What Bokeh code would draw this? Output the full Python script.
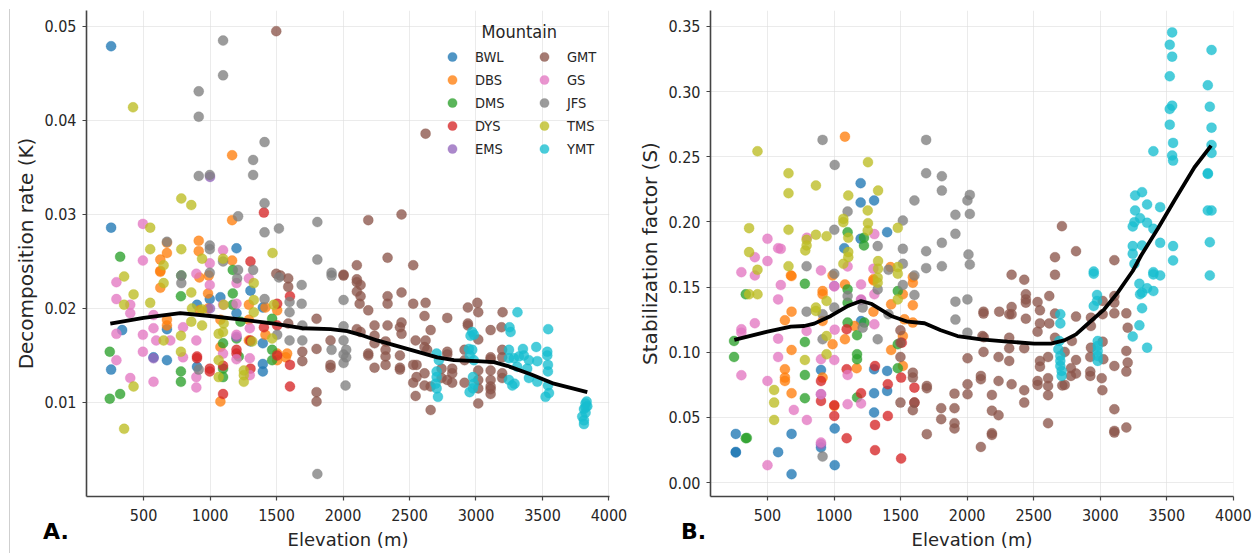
from bokeh.plotting import figure
from bokeh.layouts import row, column
from bokeh.embed import file_html
from bokeh.resources import INLINE
from bokeh.models import Range1d, FixedTicker, Legend, LegendItem, Label, NumeralTickFormatter, Div

MOUNTAINS = ["BWL", "DBS", "DMS", "DYS", "EMS", "GMT", "GS", "JFS", "TMS", "YMT"]
COLORS = ["#1f77b4", "#ff7f0e", "#2ca02c", "#d62728", "#9467bd", "#8c564b", "#e377c2", "#7f7f7f", "#bcbd22", "#17becf"]
X_TICKS = [500, 1000, 1500, 2000, 2500, 3000, 3500, 4000]
K_TICKS = [0.01, 0.02, 0.03, 0.04, 0.05]
S_TICKS = [0.0, 0.05, 0.10, 0.15, 0.20, 0.25, 0.30, 0.35]

BWL_K = [(256,.0479),(256,.0286),(1199,.0264),(339,.0177),(256,.0135),(575,.0148),(676,.0145),(676,.0178),(902,.0204),(998,.0210),(1078,.0212),(1199,.0195),(1304,.0219),(1397,.0201),(1397,.0163),(1397,.0141),(1397,.0133),(902,.0138),(1304,.0165)]
DBS_K = [(1166,.0363),(1166,.0294),(915,.0272),(915,.0261),(676,.0270),(676,.0259),(626,.0252),(626,.0240),(920,.0233),(990,.0235),(1166,.0251),(626,.0239),(626,.0222),(985,.0216),(985,.0200),(676,.0188),(676,.0182),(922,.0198),(1292,.0204),(1292,.0188),(1078,.0188),(1417,.0201),(1417,.0172),(1078,.0159),(1078,.0101),(1580,.0152),(1505,.0152),(1505,.0145),(1292,.0166),(1505,.0198),(1570,.0148)]
DMS_K = [(324,.0255),(1171,.0241),(784,.0235),(246,.0154),(246,.0104),(324,.0109),(781,.0213),(781,.0133),(781,.0122),(1171,.0216),(1098,.0163),(1098,.0136),(1098,.0127),(1199,.0168),(1229,.0186),(1216,.0149),(1467,.0156),(1467,.0145),(1467,.0189),(1171,.0204)]
DYS_K = [(1405,.0302),(1304,.0250),(902,.0149),(902,.0147),(998,.0136),(998,.0133),(1098,.0109),(1199,.0156),(1199,.0152),(1304,.0136),(1304,.0166),(1405,.0180),(1505,.0205),(1505,.0150),(1601,.0140),(1601,.0117),(1601,.0213),(1505,.0182),(1098,.0139)]
EMS_K = [(1199,.0170),(575,.0147),(1000,.0340),(1000,.0200)]
GMT_K = [(1498,.0495),(1498,.0237),(1530,.0235),(1588,.0232),(2621,.0386),(2440,.0300),(2190,.0294),(2335,.0254),(2104,.0246),(2528,.0246),(2004,.0236),(2104,.0231),(2004,.0235),(2104,.0228),(2132,.0225),(2104,.0218),(2132,.0213),(2125,.0205),(2190,.0198),(2335,.0213),(2335,.0205),(2440,.0217),(2528,.0205),(2621,.0206),(2613,.0192),(2784,.0190),(2939,.0201),(3010,.0206),(3017,.0196),(3200,.0196),(1801,.0189),(2237,.0182),(2335,.0182),(2440,.0185),(2428,.0180),(2440,.0173),(2659,.0177),(2939,.0184),(2939,.0182),(3110,.0177),(3192,.0180),(2104,.0178),(2132,.0175),(2237,.0171),(2237,.0163),(1906,.0166),(1801,.0157),(1906,.0140),(1906,.0137),(2190,.0152),(2190,.0150),(2320,.0165),(2320,.0156),(2320,.0149),(2320,.0140),(2237,.0137),(2428,.0150),(2428,.0137),(2428,.0135),(2546,.0166),(2621,.0166),(2613,.0159),(2633,.0156),(2528,.0140),(2553,.0140),(2613,.0131),(2553,.0127),(2528,.0121),(2613,.0118),(2659,.0117),(2546,.0107),(2659,.0092),(2784,.0154),(2784,.0151),(2741,.0136),(2741,.0126),(2821,.0136),(2821,.0131),(2821,.0121),(2784,.0124),(2914,.0156),(2914,.0145),(2914,.0121),(3017,.0167),(3017,.0134),(3017,.0124),(3017,.0115),(3017,.0099),(3110,.0148),(3110,.0146),(3110,.0134),(3110,.0124),(3110,.0117),(3110,.0114),(3110,.0109),(3197,.0156),(3197,.0148),(3197,.0131),(3197,.0126),(1801,.0111),(1801,.0101),(1588,.0223),(1694,.0154),(1694,.0144),(1588,.0184)]
GS_K = [(495,.0290),(495,.0251),(296,.0228),(1098,.0262),(998,.0248),(897,.0237),(296,.0210),(400,.0204),(400,.0195),(296,.0173),(296,.0145),(400,.0126),(495,.0172),(495,.0154),(575,.0193),(575,.0179),(595,.0166),(701,.0166),(575,.0122),(797,.0180),(797,.0148),(897,.0166),(897,.0127),(897,.0116),(998,.0225),(1199,.0205),(1199,.0227),(1292,.0232),(1299,.0179),(1299,.0147),(1299,.0129),(1199,.0172),(1199,.0146),(1098,.0204),(1098,.0152)]
JFS_K = [(1098,.0485),(1098,.0448),(915,.0431),(915,.0404),(915,.0341),(998,.0342),(1324,.0358),(1324,.0342),(1410,.0377),(1410,.0312),(1211,.0298),(1410,.0281),(1518,.0285),(1807,.0292),(1807,.0252),(676,.0271),(998,.0267),(998,.0263),(1098,.0250),(1211,.0241),(1324,.0241),(784,.0235),(998,.0238),(1518,.0233),(1914,.0238),(1914,.0235),(1689,.0225),(1689,.0205),(1598,.0196),(1598,.0207),(1694,.0182),(1694,.0166),(1598,.0166),(1505,.0172),(1410,.0210),(784,.0227),(1204,.0232),(915,.0135),(1807,.0024),(2004,.0209),(2004,.0181),(2004,.0166),(2024,.0156),(2004,.0151),(2024,.0148),(2004,.0142),(2019,.0118),(1914,.0156)]
TMS_K = [(421,.0414),(784,.0317),(859,.0310),(550,.0286),(550,.0263),(784,.0263),(940,.0253),(1098,.0253),(1470,.0259),(651,.0246),(354,.0234),(425,.0215),(354,.0204),(550,.0206),(651,.0227),(859,.0217),(864,.0200),(940,.0199),(859,.0186),(940,.0182),(781,.0171),(651,.0166),(781,.0154),(425,.0117),(354,.0072),(1065,.0173),(1098,.0175),(1065,.0145),(1065,.0127),(1103,.0184),(1103,.0204),(1329,.0227),(1329,.0209),(1329,.0196),(1317,.0165),(1254,.0134),(1254,.0129),(1254,.0122),(1480,.0204),(1467,.0168)]
YMT_K = [(3312,.0196),(3252,.0180),(3260,.0175),(3543,.0178),(2972,.0175),(2959,.0171),(2984,.0172),(2947,.0157),(2972,.0156),(2954,.0150),(2984,.0145),(3248,.0156),(3248,.0147),(3285,.0147),(3323,.0149),(3353,.0157),(3453,.0159),(3360,.0150),(3398,.0145),(3461,.0144),(3536,.0154),(3536,.0150),(3541,.0140),(3541,.0133),(3385,.0136),(3310,.0138),(3398,.0126),(3461,.0122),(3541,.0118),(3549,.0110),(3523,.0106),(3248,.0124),(3273,.0118),(3290,.0120),(2704,.0152),(2721,.0145),(2704,.0133),(2704,.0127),(2696,.0120),(2704,.0115),(2714,.0106),(2977,.0127),(2984,.0120),(2977,.0115),(2952,.0111),(3824,.0099),(3837,.0096),(3812,.0093),(3824,.0089),(3799,.0085),(3812,.0081),(3812,.0077),(3832,.0101),(3824,.0095)]
SMOOTH_K = [(250,.0184),(500,.0190),(776,.0195),(1000,.0192),(1254,.0188),(1480,.0184),(1694,.0179),(1906,.0178),(2032,.0176),(2132,.0172),(2257,.0166),(2483,.0157),(2709,.0148),(2834,.0145),(3010,.0144),(3135,.0143),(3235,.0139),(3411,.0130),(3586,.0120),(3837,.0111)]

BWL_S = [(1200,.2297),(1200,.2148),(1301,.2164),(1399,.1921),(1200,.1870),(1077,.1798),(262,.0373),(262,.0230),(262,.0235),(580,.0233),(681,.0373),(681,.0064),(1005,.0414),(1005,.0133),(902,.0864),(902,.0268),(1301,.0869),(1301,.0685),(1301,.0537),(1399,.0856),(1399,.0703),(1203,.1239)]
DBS_S = [(1082,.2654),(676,.1589),(989,.1589),(1298,.1550),(1424,.1653),(1592,.1576),(681,.1584),(914,.1469),(914,.1444),(1082,.1520),(1296,.1559),(1592,.1533),(1592,.1360),(1592,.1227),(1517,.1444),(1429,.1367),(1529,.1252),(681,.1311),(631,.1245),(681,.1017),(631,.0869),(631,.0805),(631,.0779),(681,.0685),(914,.1239),(989,.1061),(1082,.1099),(1154,.1201),(1296,.1311),(1429,.1017),(1517,.0894),(1517,.1124),(1170,.0877),(914,.0805),(1002,.0588)]
DMS_S = [(1102,.1921),(1225,.1878),(1225,.1819),(781,.1525),(337,.1444),(249,.1086),(249,.0963),(337,.0340),(345,.0342),(781,.1078),(781,.0825),(781,.0647),(1102,.1482),(1102,.1227),(1102,.1380),(1173,.1130),(1173,.0984),(1173,.0946),(1173,.0652),(1228,.1227),(1479,.1469),(1479,.1061),(1479,.0877)]
DYS_S = [(902,.0779),(902,.0626),(1095,.0869),(1095,.1176),(1095,.0340),(1203,.0685),(1308,.0894),(1308,.0442),(1308,.0248),(1404,.0754),(1404,.0511),(1504,.0805),(1504,.0184),(1604,.0728),(1002,.0593),(1002,.0511),(1509,.1073),(1604,.0613)]
EMS_S = [(902,.0294),(902,.0677),(1002,.1508),(1203,.1400)]
GMT_S = [(2334,.1594),(2429,.1556),(2660,.1594),(2660,.1729),(2712,.1967),(2818,.1775),(3106,.1706),(2441,.1444),(2441,.1405),(2441,.1380),(2617,.1431),(2529,.1385),(2547,.1321),(2334,.1347),(2316,.1291),(2334,.1291),(2241,.1311),(2123,.1311),(2123,.1296),(2441,.1257),(2660,.1296),(2547,.1221),(2617,.1221),(2529,.1157),(2818,.1273),(2930,.1265),(2930,.1201),(3018,.1393),(3018,.1291),(3106,.1431),(3106,.1380),(3106,.1298),(3196,.1298),(3206,.1188),(2115,.1124),(2125,.1115),(2316,.1111),(2316,.1030),(2429,.1030),(2660,.1111),(2787,.1086),(3018,.1081),(2930,.1035),(2123,.1002),(2003,.0953),(2236,.0963),(2316,.0933),(2547,.0933),(2547,.0889),(2608,.0963),(2733,.1002),(2818,.0940),(2925,.0963),(3023,.0946),(3106,.0894),(3196,.1009),(3206,.0920),(3196,.0851),(2780,.0877),(2818,.0836),(2780,.0818),(2925,.0851),(2925,.0818),(3011,.0800),(3016,.0708),(3106,.0562),(3196,.0422),(3106,.0396),(3106,.0383),(2608,.0800),(2608,.0741),(2608,.0670),(2529,.0779),(2529,.0749),(2733,.0749),(2715,.0745),(2429,.0708),(2429,.0613),(2334,.0754),(2236,.0779),(2103,.0818),(2103,.0792),(2003,.0754),(2003,.0677),(1905,.0682),(1905,.0570),(1905,.0455),(1905,.0414),(2186,.0672),(2186,.0551),(2236,.0516),(2186,.0378),(2186,.0365),(2103,.0273),(2608,.0455),(1499,.1168),(1499,.1073),(1499,.0963),(1592,.0843),(1592,.0805),(1604,.0613),(1592,.0555),(1499,.0613),(1697,.0741),(1697,.0723),(1697,.0371),(1805,.0570),(1805,.0486)]
GS_S = [(304,.1614),(405,.1729),(405,.1589),(500,.1870),(580,.1798),(600,.1793),(500,.1699),(1303,.1906),(1102,.1658),(902,.1627),(796,.1878),(1296,.1640),(600,.1515),(580,.1405),(1002,.1505),(1203,.1520),(902,.0946),(1002,.0940),(405,.1222),(304,.1176),(304,.1150),(794,.1163),(580,.1104),(1005,.1173),(1303,.1214),(1203,.1405),(1303,.1444),(580,.0963),(304,.0823),(500,.0779),(1102,.0825),(902,.0677),(698,.0557),(796,.0480),(1102,.0601),(1203,.0606),(500,.0133),(902,.0307)]
JFS_S = [(914,.2629),(1005,.2437),(1692,.2629),(1692,.2373),(1810,.2350),(1810,.2240),(1604,.2164),(1102,.2079),(1517,.2010),(1002,.1939),(1328,.1814),(1517,.1793),(1692,.1775),(1810,.1839),(794,.1660),(1517,.1678),(1692,.1645),(1810,.1660),(1604,.1589),(1409,.1632),(1002,.1602),(1328,.1482),(1604,.1439),(1517,.1515),(1102,.1431),(794,.1311),(914,.1291),(1002,.1342),(1215,.1342),(1215,.1188),(1328,.1099),(914,.1099),(1409,.1291),(914,.0199),(2020,.2207),(2002,.2164),(1912,.2054),(2020,.2061),(1912,.1908),(2010,.1750),(2020,.1673),(1912,.1388),(2002,.1405),(1912,.1250),(2002,.1150)]
TMS_S = [(425,.2542),(658,.2373),(658,.2220),(864,.2279),(1255,.2458),(1331,.2240),(1107,.2202),(1253,.2087),(1070,.2023),(1070,.1997),(1255,.1990),(1253,.1934),(1479,.1954),(362,.1952),(658,.1939),(794,.1862),(794,.1819),(784,.1781),(864,.1901),(944,.1890),(1107,.1878),(1107,.1768),(1107,.1729),(1070,.1678),(362,.1768),(425,.1632),(658,.1660),(1331,.1699),(1331,.1640),(1479,.1653),(1479,.1602),(425,.1444),(362,.1444),(1328,.1572),(1328,.1533),(1479,.1405),(944,.1393),(864,.1342),(864,.1316),(944,.1124),(944,.0984),(781,.0940),(550,.0710),(550,.0613),(550,.0480)]
YMT_S = [(3540,.3454),(3522,.3359),(3540,.3268),(3522,.3117),(3836,.3319),(3808,.3048),(3823,.2884),(3540,.2892),(3522,.2866),(3522,.2746),(3836,.2723),(3547,.2606),(3836,.2590),(3836,.2529),(3399,.2542),(3540,.2509),(3547,.2470),(3808,.2373),(3808,.2368),(3808,.2087),(3836,.2087),(3823,.1844),(3314,.2228),(3262,.2202),(3352,.2133),(3450,.2113),(3262,.2087),(3299,.2028),(3352,.1993),(3257,.1998),(3244,.1965),(3399,.1947),(3450,.1839),(3244,.1814),(3314,.1819),(3547,.1814),(3547,.1704),(3244,.1755),(3257,.1678),(3823,.1589),(3399,.1614),(3450,.1589),(2951,.1619),(3294,.1525),(2951,.1602),(3399,.1597),(3299,.1444),(3314,.1457),(3352,.1490),(3399,.1469),(3314,.1337),(3294,.1206),(3244,.1120),(3352,.1035),(2976,.1439),(2976,.1393),(2951,.1354),(2700,.1291),(2700,.1221),(2692,.1086),(2685,.1022),(2700,.0971),(2700,.0933),(2700,.0894),(2710,.0856),(2710,.0818),(2981,.1086),(2981,.1048),(2981,.1009),(2981,.0971),(2981,.0933)]
SMOOTH_S = [(251,.1094),(500,.1158),(676,.1196),(776,.1201),(851,.1219),(976,.1278),(1102,.1354),(1203,.1393),(1278,.1372),(1429,.1278),(1554,.1234),(1680,.1222),(1802,.1168),(1927,.1124),(2103,.1099),(2303,.1081),(2504,.1066),(2629,.1066),(2730,.1091),(2818,.1137),(2930,.1239),(3030,.1329),(3131,.1457),(3244,.1623),(3307,.1742),(3432,.1947),(3557,.2164),(3708,.2419),(3833,.2585)]

SERIES_K = [BWL_K, DBS_K, DMS_K, DYS_K, EMS_K, GMT_K, GS_K, JFS_K, TMS_K, YMT_K]
SERIES_S = [BWL_S, DBS_S, DMS_S, DYS_S, EMS_S, GMT_S, GS_S, JFS_S, TMS_S, YMT_S]

FONT = "DejaVu Sans"
COND = "DejaVu Sans Condensed"
TEXT = "#262626"


def panel(series, smooth, ylabel, yticks, xr, yr, left, right):
    p = figure(width=left + 523 + right, height=553, frame_width=523, frame_height=486,
               x_range=Range1d(*xr), y_range=Range1d(*yr),
               output_backend="svg", toolbar_location=None,
               min_border_left=left, min_border_right=right, min_border_top=10, min_border_bottom=57)
    p.outline_line_color = None
    p.background_fill_color = "white"
    p.grid.grid_line_color = "#dddddd"
    p.grid.grid_line_alpha = 0.6
    p.grid.grid_line_width = 1
    p.xaxis.ticker = FixedTicker(ticks=X_TICKS)
    p.yaxis.ticker = FixedTicker(ticks=yticks)
    p.yaxis.formatter = NumeralTickFormatter(format="0.00")
    for ax in (p.xaxis[0], p.yaxis[0]):
        ax.axis_line_color = "#444444"
        ax.axis_line_width = 1.6
        ax.major_tick_line_color = "#444444"
        ax.major_tick_line_width = 1.2
        ax.major_tick_out = 4
        ax.major_tick_in = 0
        ax.minor_tick_line_color = None
        ax.major_label_text_font = COND
        ax.major_label_text_font_size = "16px"
        ax.major_label_text_color = TEXT
        ax.axis_label_text_font = FONT
        ax.axis_label_text_font_style = "normal"
        ax.axis_label_text_color = TEXT
    p.xaxis.axis_label_text_font_size = "18px"
    p.yaxis.axis_label_text_font_size = "20px"
    p.xaxis.axis_label = "Elevation (m)"
    p.yaxis.axis_label = ylabel
    p.xaxis.major_label_standoff = 8
    p.xaxis.axis_label_standoff = 5
    p.yaxis.major_label_standoff = 6
    p.yaxis.axis_label_standoff = 3
    renderers = []
    for name, color, pts in zip(MOUNTAINS, COLORS, series):
        r = p.scatter([a for a, b in pts], [b for a, b in pts], size=10, marker="circle",
                      fill_color=color, line_color=color, fill_alpha=0.78, line_alpha=0.6, line_width=0.5)
        renderers.append((name, r))
    p.line([a for a, b in smooth], [b for a, b in smooth], line_color="black", line_width=3.8)
    return p, renderers


p1, rs = panel(SERIES_K, SMOOTH_K, "Decomposition rate (K)", K_TICKS, (71, 4004), (0.0, 0.0517), 86, 21)
p2, _ = panel(SERIES_S, SMOOTH_S, "Stabilization factor (S)", S_TICKS, (72, 4001), (-0.01074, 0.3622), 80, 25)

legend = Legend(items=[LegendItem(label=n, renderers=[r]) for n, r in rs],
                ncols=2, location=(354, 336),
                background_fill_alpha=0, border_line_color=None,
                label_text_font=COND, label_text_font_size="14.5px", label_text_color=TEXT,
                label_standoff=11, label_width=57, glyph_width=24, glyph_height=23, spacing=0, padding=6, margin=0)
p1.add_layout(legend)
p1.add_layout(Label(x=3042, y=0.0495, text="Mountain", text_font=COND, text_font_size="18px",
                    text_color=TEXT, text_baseline="middle", text_align="left"))

LETTER_STYLE = {"font-family": FONT, "font-weight": "bold", "font-size": "22px", "color": "black"}
letter_a = Div(text="A.", width=40, height=30, margin=(-37, 0, 0, 43), styles=LETTER_STYLE)
letter_b = Div(text="B.", width=40, height=30, margin=(-37, 0, 0, 51), styles=LETTER_STYLE)
rule = Div(text='<div style="width:1px;height:544px;background:#cfcfcf"></div>',
           width=2, height=544, margin=(-537, 0, 0, 9))

out = row(column(p1, letter_a, rule, spacing=0), column(p2, letter_b, spacing=0), spacing=0)
open("out.html", "w").write(file_html(out, INLINE))
